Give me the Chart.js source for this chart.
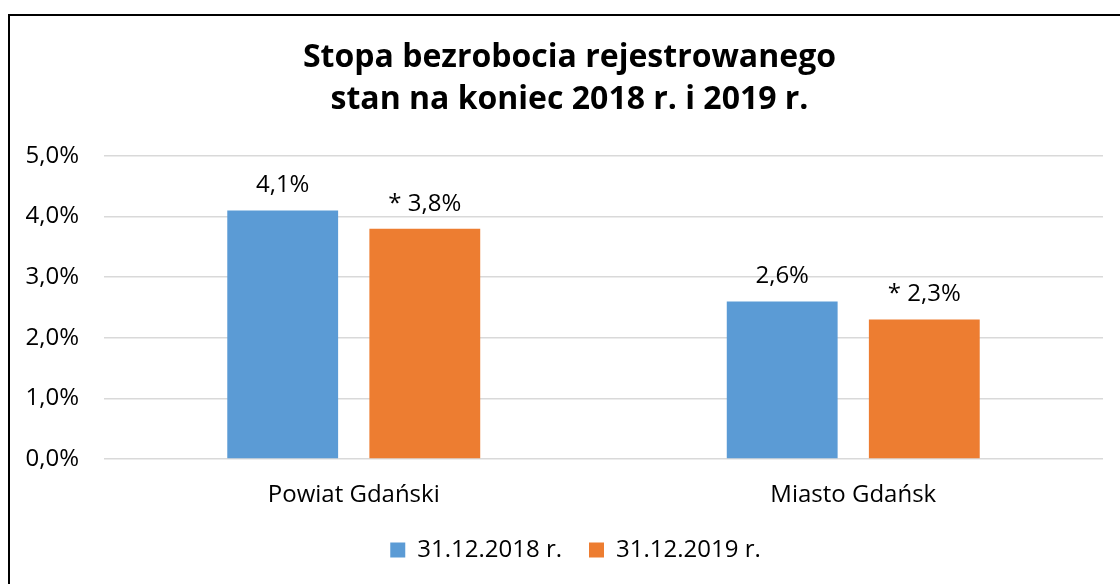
<!DOCTYPE html>
<html lang="pl">
<head>
<meta charset="utf-8">
<script src="https://cdn.jsdelivr.net/npm/chart.js@4"></script>
<style>
    html, body { margin: 0; padding: 0; background: #fff; overflow: hidden; }
    #wrap { position: relative; width: 1120px; height: 584px; }
    #frame { position: absolute; left: 8px; top: 14px; width: 1200px; height: 700px; border: 2px solid #000; box-sizing: border-box; pointer-events: none; }
</style>
</head>
<body>
<div id="wrap">
    <canvas id="chart" width="1120" height="584"></canvas>
    <div id="frame"></div>
</div>
<script>
const CATEGORIES = ['Powiat Gdański', 'Miasto Gdańsk'];
const SERIES_NAMES = ['31.12.2018 r.', '31.12.2019 r.'];
const VALUES_2018 = [4.1, 2.6];
const VALUES_2019 = [3.8, 2.3];
const LABEL_PREFIX = ['', '* '];
const Y_TICKS = [0, 1, 2, 3, 4, 5];

const FONT = "'Open Sans', 'Noto Sans', sans-serif";

function formatPct(v) {
    return v.toFixed(1).replace('.', ',') + '%';
}

// etykiety nad slupkami
const barLabels = {
    id: 'barLabels',
    afterDatasetsDraw(chart) {
        const ctx = chart.ctx;
        ctx.save();
        ctx.font = '24px ' + FONT;
        ctx.fillStyle = '#000';
        ctx.textAlign = 'center';
        ctx.textBaseline = 'middle';
        chart.data.datasets.forEach((ds, i) => {
            chart.getDatasetMeta(i).data.forEach((bar, j) => {
                ctx.fillText(LABEL_PREFIX[i] + formatPct(ds.data[j]), bar.x, bar.y - 25);
            });
        });
        ctx.restore();
    }
};

// tytul i legenda lekko przesuniete w prawo, jak w oryginale
const shiftBoxes = {
    id: 'shiftBoxes',
    afterLayout(chart) {
        if (chart.titleBlock) { chart.titleBlock.left += 8; chart.titleBlock.right += 8; }
        if (chart.legend) { chart.legend.left += 14; chart.legend.right += 14; }
    }
};

new Chart(document.getElementById('chart'), {
    type: 'bar',
    data: {
        labels: CATEGORIES,
        datasets: [
            { label: SERIES_NAMES[0], data: VALUES_2018, backgroundColor: '#5b9bd5' },
            { label: SERIES_NAMES[1], data: VALUES_2019, backgroundColor: '#ed7d31' }
        ]
    },
    options: {
        responsive: false,
        animation: false,
        categoryPercentage: 0.569,
        barPercentage: 0.78,
        layout: { padding: { left: 20, right: 17, top: 30, bottom: 12 } },
        plugins: {
            title: {
                display: true,
                text: ['Stopa bezrobocia rejestrowanego', 'stan na koniec 2018 r. i 2019 r.'],
                color: '#000',
                font: { family: FONT, size: 32, weight: 'bold', lineHeight: 1.3125 },
                padding: { top: 7, bottom: 35 }
            },
            legend: {
                position: 'bottom',
                labels: {
                    color: '#000',
                    font: { family: FONT, size: 24 },
                    boxWidth: 15,
                    boxHeight: 15,
                    padding: 27
                }
            },
            tooltip: { enabled: false }
        },
        scales: {
            x: {
                grid: { display: false, drawTicks: false },
                border: { display: false },
                afterFit: scale => { scale.height = 52; },
                ticks: { color: '#000', font: { family: FONT, size: 24 }, padding: 22 }
            },
            y: {
                min: 0,
                max: 5,
                afterBuildTicks: scale => { scale.ticks = Y_TICKS.map(v => ({ value: v })); },
                afterFit: scale => { scale.width = 84; },
                grid: { color: '#d9d9d9', lineWidth: 1.5, drawTicks: false },
                border: { display: false },
                ticks: {
                    color: '#000',
                    font: { family: FONT, size: 24 },
                    padding: 25,
                    callback: v => formatPct(v)
                }
            }
        }
    },
    plugins: [barLabels, shiftBoxes]
});
</script>
</body>
</html>
